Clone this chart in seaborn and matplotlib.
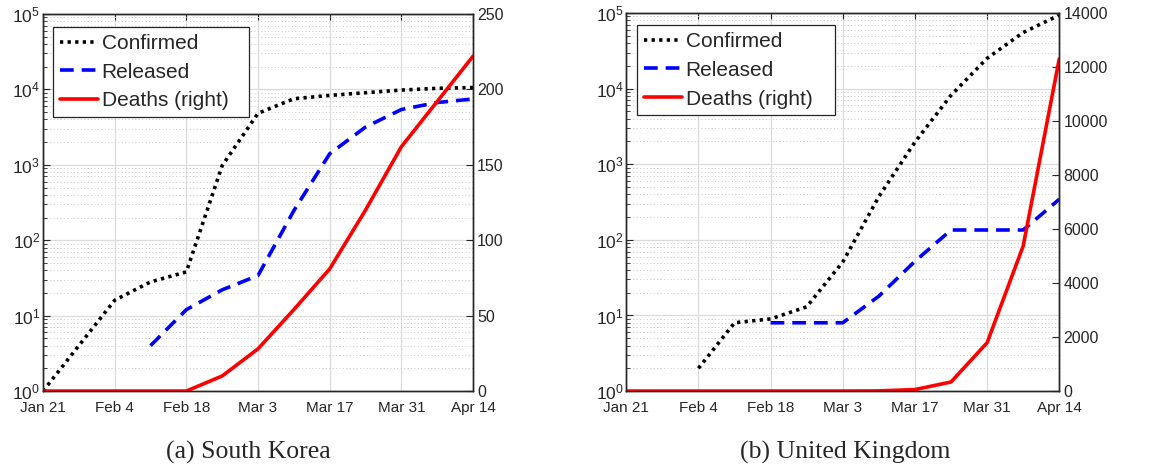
import numpy as np
import pandas as pd
import seaborn as sns
import matplotlib.pyplot as plt

# weekly samples, Jan 21 .. Apr 14 (2020)
dates = pd.date_range("2020-01-21", "2020-04-14", freq="7D")
tick_dates = pd.date_range("2020-01-21", "2020-04-14", freq="14D")
tick_labels = ["Jan 21", "Feb 4", "Feb 18", "Mar 3", "Mar 17", "Mar 31", "Apr 14"]

# South Korea
kr_confirmed = [1, 4, 16, 28, 38, 977, 4812, 7513, 8320, 9037, 9786, 10331, 10564]
kr_released = [np.nan, np.nan, np.nan, 4, 12, 22, 34, 247, 1401, 3166, 5408, 6694, 7447]
kr_deaths = [0, 0, 0, 0, 0, 10, 28, 54, 81, 120, 162, 192, 222]

# United Kingdom
uk_confirmed = [np.nan, np.nan, 2, 8, 9, 13, 51, 373, 1960, 8164, 25150, 55242, 93873]
uk_released = [np.nan, np.nan, np.nan, np.nan, 8, 8, 8, 18, 52, 135, 135, 135, 344]
uk_deaths = [0, 0, 0, 0, 0, 0, 0, 6, 56, 335, 1790, 5370, 12300]

panels = [
    ("(a) South Korea", kr_confirmed, kr_released, kr_deaths, 250, 50),
    ("(b) United Kingdom", uk_confirmed, uk_released, uk_deaths, 14000, 2000),
]

sns.set_style("white")
plt.rcParams["font.family"] = ["Liberation Sans", "DejaVu Sans"]
plt.rcParams["mathtext.fontset"] = "custom"
plt.rcParams["mathtext.rm"] = "Liberation Sans"
plt.rcParams["mathtext.it"] = "Liberation Sans"

fig = plt.figure(figsize=(11.75, 4.65), dpi=100)
axes_pos = [[0.0366, 0.159, 0.366, 0.811], [0.533, 0.159, 0.3685, 0.813]]
legend_box = [(0.0233, 0.9655, 0.456), (0.0247, 0.968, 0.457)]
caption_x = [248 / 1175, 845 / 1175]
lw = 2.6
ink = "#262626"

for i, (caption, conf, rel, deaths, rmax, rstep) in enumerate(panels):
    ax = fig.add_axes(axes_pos[i])
    df = pd.DataFrame({"date": dates, "Confirmed": conf, "Released": rel, "Deaths": deaths})

    sns.lineplot(data=df, x="date", y="Confirmed", ax=ax, color="black",
                 linewidth=lw, label="Confirmed")
    ax.lines[-1].set_linestyle((0, (0.9, 1.2)))
    sns.lineplot(data=df, x="date", y="Released", ax=ax, color="blue",
                 linewidth=lw, label="Released")
    ax.lines[-1].set_linestyle((0, (3.8, 2.2)))
    ax.set_yscale("log")
    ax.set_ylim(1, 1e5)
    ax.set_xlim(dates[0], dates[-1])
    ax.set_xticks(tick_dates)
    ax.set_xticklabels(tick_labels)
    ax.set_xlabel("")
    ax.set_ylabel("")

    ax.grid(True, which="major", color="#dcdcdc", linewidth=0.9)
    ax.grid(True, which="minor", axis="y", color="#c8c8c8", linewidth=0.7,
            linestyle=(0, (1, 2.5)))
    ax.set_axisbelow(True)
    ax.tick_params(axis="both", which="both", direction="in", colors=ink)
    ax.tick_params(axis="x", top=True, pad=7, length=4, labelsize=11)
    ax.tick_params(axis="y", which="major", length=5, pad=2, labelsize=12.5)
    ax.tick_params(axis="y", which="minor", length=3)
    ax.get_legend().remove()

    ax2 = ax.twinx()
    sns.lineplot(data=df, x="date", y="Deaths", ax=ax2, color="red",
                 linewidth=lw, label="Deaths (right)")
    ax2.set_ylim(0, rmax)
    ax2.set_yticks(np.arange(0, rmax + 1, rstep))
    ax2.set_ylabel("")
    ax2.tick_params(axis="y", direction="in", labelsize=11.5, length=5, pad=3, colors=ink)
    ax2.get_legend().remove()

    for a in (ax, ax2):
        for s in a.spines.values():
            s.set_color(ink)
            s.set_linewidth(1.0)

    h1, l1 = ax.get_legend_handles_labels()
    h2, l2 = ax2.get_legend_handles_labels()
    bx, by, bw = legend_box[i]
    leg = ax2.legend(h1 + h2, l1 + l2, loc="upper left", bbox_to_anchor=(bx, by - 0.3, bw, 0.3),
                     mode="expand", fontsize=15, frameon=True, fancybox=False, framealpha=1,
                     edgecolor=ink, handlelength=1.85, handletextpad=0.15,
                     labelspacing=0.47, borderpad=0.33, borderaxespad=0)
    leg.get_frame().set_linewidth(0.9)

    fig.text(caption_x[i], 0.028, caption, ha="center", va="center", fontsize=18.5,
             family=["Liberation Serif", "DejaVu Serif"])

fig.savefig("out.png", dpi=100)
